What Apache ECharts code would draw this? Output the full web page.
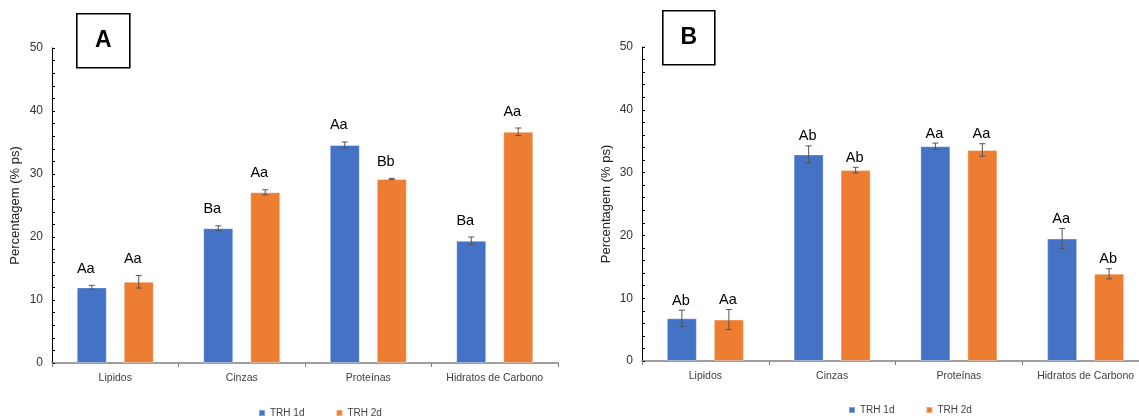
<!DOCTYPE html>
<html>
<head>
<meta charset="utf-8">
<script src="https://cdn.jsdelivr.net/npm/echarts@6/dist/echarts.min.js"></script>
<style>
  html, body { margin: 0; padding: 0; background: #fff; overflow: hidden; }
  /* the right panel's last category runs past the visible edge */
  #chart { width: 1160px; height: 419px; }
</style>
</head>
<body>
<div id="chart"></div>
<script>
// Composition by fraction (% dry weight), two panels
const categories = ['Lipidos', 'Cinzas', 'Proteínas', 'Hidratos de Carbono'];
const seriesNames = ['TRH 1d', 'TRH 2d'];

// Panel A
const a1dMean = [12.0, 21.4, 34.6, 19.4];
const a1dErr  = [0.32, 0.37, 0.48, 0.6];
const a1dSig  = ['Aa', 'Ba', 'Aa', 'Ba'];
const a2dMean = [12.9, 27.1, 29.2, 36.7];
const a2dErr  = [1.0, 0.4, 0.1, 0.6];
const a2dSig  = ['Aa', 'Aa', 'Bb', 'Aa'];

// Panel B
const b1dMean = [6.8, 32.9, 34.2, 19.5];
const b1dErr  = [1.3, 1.35, 0.5, 1.6];
const b1dSig  = ['Ab', 'Ab', 'Aa', 'Aa'];
const b2dMean = [6.6, 30.4, 33.6, 13.9];
const b2dErr  = [1.6, 0.45, 1.0, 0.8];
const b2dSig  = ['Aa', 'Ab', 'Aa', 'Ab'];

const yTicks = [0, 10, 20, 30, 40, 50];

const BLUE = '#4472C4';
const ORANGE = '#ED7D31';
const FONT = '"Liberation Sans", Arial, sans-serif';
const BAR_W = 30;
const BAR_GAP = 17;
const HALF_STEP = (BAR_W + BAR_GAP) / 2;

function errorSeries(idx, means, errs, sigs, dx, labelGap, labelDx) {
  return {
    type: 'custom',
    xAxisIndex: idx,
    yAxisIndex: idx,
    silent: true,
    clip: false,
    z: 5,
    data: means.map((m, i) => [i, m, errs[i]]),
    renderItem: function (params, api) {
      const c = api.value(0), m = api.value(1), e = api.value(2);
      const x = api.coord([c, m])[0] + dx;
      const yHi = api.coord([c, m + e])[1];
      const yLo = api.coord([c, m - e])[1];
      const cap = 3;
      const st = { stroke: '#555555', lineWidth: 1 };
      return {
        type: 'group',
        children: [
          { type: 'line', shape: { x1: x, y1: yHi, x2: x, y2: yLo }, style: st },
          { type: 'line', shape: { x1: x - cap, y1: yHi, x2: x + cap, y2: yHi }, style: st },
          { type: 'line', shape: { x1: x - cap, y1: yLo, x2: x + cap, y2: yLo }, style: st },
          {
            type: 'text',
            style: {
              x: x + labelDx, y: yHi - labelGap,
              text: sigs[params.dataIndex],
              align: 'center', verticalAlign: 'bottom',
              fontFamily: FONT, fontSize: 14.5, fill: '#000'
            }
          }
        ]
      };
    }
  };
}

function barSeries(idx, name, data, color) {
  return {
    type: 'bar',
    name: name,
    xAxisIndex: idx,
    yAxisIndex: idx,
    data: data,
    barWidth: BAR_W,
    barGap: (BAR_GAP / BAR_W * 100).toFixed(2) + '%',
    itemStyle: { color: color, borderColor: 'rgba(255,255,255,0.35)', borderWidth: 1 },
    silent: true
  };
}

function xAxis(idx) {
  return {
    type: 'category',
    gridIndex: idx,
    data: categories,
    axisLine: { lineStyle: { color: '#7f7f7f', width: 1.5 } },
    axisTick: { show: true, length: 4, lineStyle: { color: '#7f7f7f' } },
    axisLabel: { interval: 0, fontFamily: FONT, fontSize: 10.5, color: '#404040', margin: 10 }
  };
}

function yAxis(idx, gap) {
  return {
    type: 'value',
    gridIndex: idx,
    min: yTicks[0],
    max: yTicks[yTicks.length - 1],
    interval: yTicks[1] - yTicks[0],
    name: 'Percentagem (% ps)',
    nameLocation: 'middle',
    nameGap: gap,
    nameTextStyle: { fontFamily: FONT, fontSize: 13, color: '#222' },
    axisLine: { show: true, lineStyle: { color: '#000', width: 1 } },
    axisTick: { show: true, inside: true, length: 3, lineStyle: { color: '#000' } },
    minorTick: { show: true, splitNumber: 5, length: 3, lineStyle: { color: '#000' } },
    splitLine: { show: false },
    axisLabel: { fontFamily: FONT, fontSize: 12, color: '#333', margin: 9 }
  };
}

function panelTag(x, y, w, h, letter) {
  return {
    type: 'group',
    left: x, top: y,
    children: [
      { type: 'rect', shape: { x: 0, y: 0, width: w, height: h }, style: { fill: '#fff', stroke: '#000', lineWidth: 1.6 } },
      {
        type: 'text', x: w / 2, y: h / 2,
        style: { text: letter, align: 'center', verticalAlign: 'middle', fontFamily: FONT, fontWeight: 'bold', fontSize: 23, fill: '#000' }
      }
    ]
  };
}

function legend(left, top) {
  return {
    left: left, top: top,
    orient: 'horizontal',
    data: seriesNames,
    icon: 'rect',
    itemWidth: 6, itemHeight: 6,
    itemGap: 31,
    selectedMode: false,
    textStyle: { fontFamily: FONT, fontSize: 10, color: '#404040' }
  };
}

const chart = echarts.init(document.getElementById('chart'), null, { renderer: 'canvas' });
chart.setOption({
  animation: false,
  backgroundColor: '#fff',
  grid: [
    { left: 52, top: 48, width: 506, height: 315 },
    { left: 642, top: 47, width: 507, height: 314 }
  ],
  xAxis: [xAxis(0), xAxis(1)],
  yAxis: [yAxis(0, 30), yAxis(1, 29)],
  legend: [legend(253, 403), legend(843, 400)],
  graphic: [panelTag(76, 13, 53, 54, 'A'), panelTag(662, 10, 52, 54, 'B')],
  series: [
    barSeries(0, seriesNames[0], a1dMean, BLUE),
    barSeries(0, seriesNames[1], a2dMean, ORANGE),
    barSeries(1, seriesNames[0], b1dMean, BLUE),
    barSeries(1, seriesNames[1], b2dMean, ORANGE),
    errorSeries(0, a1dMean, a1dErr, a1dSig, -HALF_STEP, 9, -6),
    errorSeries(0, a2dMean, a2dErr, a2dSig, HALF_STEP, 9, -6),
    errorSeries(1, b1dMean, b1dErr, b1dSig, -HALF_STEP, 2, -1),
    errorSeries(1, b2dMean, b2dErr, b2dSig, HALF_STEP, 2, -1)
  ]
});
</script>
</body>
</html>
